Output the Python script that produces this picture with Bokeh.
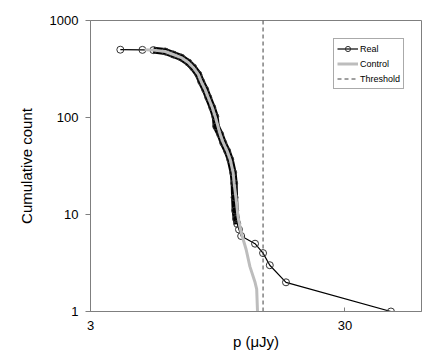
from bokeh.plotting import figure
from bokeh.models import FixedTicker, PrintfTickFormatter, Legend, LegendItem
from bokeh.embed import file_html
from bokeh.resources import INLINE

# Real series (p in microJy, cumulative count)
real_p = [3.93, 4.80, 5.30, 5.90, 6.35, 6.82, 7.27, 7.60, 7.96, 8.17, 8.47, 8.71,
          9.03, 9.28, 9.36, 9.70, 9.97, 10.34, 10.62, 10.91, 11.01, 11.05, 11.11,
          11.21, 11.32, 11.50, 11.73, 13.3, 14.3, 15.2, 17.6, 45.5]
real_n = [500, 498, 495, 479, 446, 415, 369, 328, 278, 235, 194, 161,
          127, 102, 81, 67, 55, 45, 37, 27, 21, 15, 11,
          9, 8, 7, 6, 5, 4, 3, 2, 1]

# Control series
ctrl_p = [4.90, 5.30, 5.90, 6.35, 6.82, 7.27, 7.60, 7.96, 8.17, 8.47, 8.71, 9.03,
          9.28, 9.70, 9.97, 10.34, 10.62, 10.91, 11.01, 11.21, 11.40, 11.73,
          12.27, 12.70, 13.30, 13.50, 13.60]
ctrl_n = [500, 495, 479, 446, 415, 369, 328, 278, 235, 194, 161, 127,
          102, 67, 55, 45, 37, 27, 21, 14.3, 9.5, 6.5,
          4.36, 2.9, 2.0, 1.7, 1.0]

threshold_p = 14.3
x_ticks = [3, 30]
y_ticks = [1, 10, 100, 1000]
x_lim = [3, 60]
y_lim = [1, 1000]

FONT = "Liberation Sans"
AXIS_COLOR = "#7f7f7f"

p = figure(frame_width=331, frame_height=291, x_axis_type="log", y_axis_type="log",
           x_range=(x_lim[0], x_lim[1]), y_range=(y_lim[0], y_lim[1]),
           output_backend="svg", toolbar_location=None,
           min_border_left=90, min_border_right=5, min_border_top=20,
           min_border_bottom=10)

p.xgrid.visible = False
p.ygrid.visible = False
p.outline_line_color = AXIS_COLOR
p.outline_line_width = 1
p.background_fill_color = "white"
p.border_fill_color = "white"

# band of dense markers along the main body of the Real series
body = [i for i, n in enumerate(real_n) if 8 <= n <= 495]
p.line([real_p[i] for i in body], [real_n[i] for i in body], line_color="black",
       line_width=7)
real_line = p.line(real_p, real_n, line_color="black", line_width=1.2)
real_pts = p.scatter(real_p, real_n, marker="circle", size=7, line_color="#333333",
                     fill_alpha=0, line_width=1)
ctrl_line = p.line(ctrl_p, ctrl_n, line_color="#bdbdbd", line_width=3)
thr_line = p.line([threshold_p, threshold_p], y_lim, line_color="#404040",
                  line_width=1, line_dash="4 3")

for ax in (p.xaxis[0], p.yaxis[0]):
    ax.axis_line_color = AXIS_COLOR
    ax.major_tick_line_color = AXIS_COLOR
    ax.minor_tick_line_color = None
    ax.major_label_text_font = FONT
    ax.major_label_text_font_size = "13px"
    ax.major_label_text_color = "black"
    ax.axis_label_text_font = FONT
    ax.axis_label_text_font_style = "normal"
    ax.axis_label_text_font_size = "15px"
    ax.axis_label_text_color = "black"
    ax.formatter = PrintfTickFormatter(format="%d")

p.xaxis.ticker = FixedTicker(ticks=x_ticks)
p.yaxis.ticker = FixedTicker(ticks=y_ticks)
p.xaxis.major_tick_in = 4
p.xaxis.major_tick_out = 0
p.yaxis.major_tick_in = 0
p.yaxis.major_tick_out = 5
p.xaxis.major_label_standoff = 9
p.yaxis.major_label_standoff = 7
p.xaxis.axis_label = "p (\u03bcJy)"
p.yaxis.axis_label = "Cumulative count"
p.xaxis.axis_label_standoff = 0
p.yaxis.axis_label_standoff = 12

legend = Legend(items=[
    LegendItem(label="Real", renderers=[real_line, real_pts]),
    LegendItem(label="Control", renderers=[ctrl_line]),
    LegendItem(label="Threshold", renderers=[thr_line]),
], location=(243, 222))
legend.label_text_font = FONT
legend.label_text_font_size = "9px"
legend.label_text_color = "black"
legend.border_line_color = "#555555"
legend.border_line_width = 1
legend.padding = 3
legend.margin = 0
legend.spacing = 2
legend.glyph_width = 21
legend.glyph_height = 13
legend.label_height = 13
legend.label_standoff = 2
legend.background_fill_alpha = 1
p.add_layout(legend)

open("out.html", "w").write(file_html(p, INLINE))
